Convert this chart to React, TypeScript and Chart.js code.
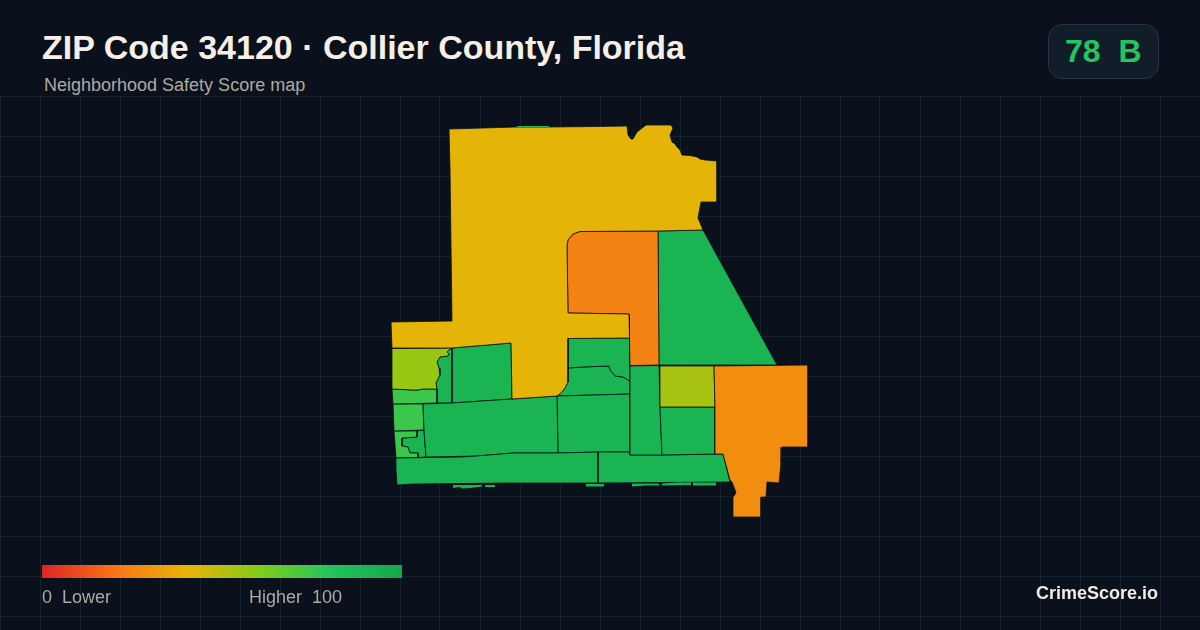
import React, { useEffect, useRef } from "react";
import { Chart, registerables } from "chart.js";

Chart.register(...registerables);

type Ring = [number, number][];

// Map outlines (map units) and safety scores, drawn through the chart's scales.
const northWest: Ring = [[449,129],[483,128],[517,127],[549,127],[597,126.5],[627,126],[628,135],[631,139],[633,139],[637,132],[646,125],[671,125],[673,128],[670,135],[672,142],[675,144],[677,147],[680,150],[682,155],[690,155.5],[697,157],[700,159],[705,160],[717,161],[717,202],[701,202],[698,218],[703,230],[658,231],[580,231.5],[573,234],[568,240],[567,246],[568,313],[629,314],[629.5,338],[568,338.5],[568,382],[565,388],[561,393],[557,396],[512,399],[511,343],[452,348],[392,348],[391,322],[452,321],[450,168]];
const northCentre: Ring = [[580,231.5],[658,231],[659,365],[630,365.5],[629,314],[568,313],[567,246],[568,240],[573,234]];
const northEast: Ring = [[658,231],[703,230],[777,365],[659,365]];
const southEast: Ring = [[714,366],[808,365],[808,447],[782,447],[781,463],[779,483],[767,482],[766,497],[761,497],[761,517],[733,517],[733,497],[736,493],[735,490],[732,482],[730,480],[723,454],[715,454],[715,407]];
const eastLime: Ring = [[660,366],[714,366],[715,407],[660,407]];
const eastLower: Ring = [[660,407],[715,407],[715,454],[662,455]];
const eastColumn: Ring = [[630,366],[659,365.5],[660,407],[662,455],[630,455]];
const bandWest: Ring = [[396,458],[462,457],[477,456],[513,453],[558,453],[598,452],[598,483],[505,483],[412,484],[397,485],[396,470]];
const bandEast: Ring = [[598,452],[630,452],[630,455],[662,455],[723,454],[730,482],[598,483]];
const midBlock: Ring = [[423,404],[452,403],[512,399],[557,396],[558,453],[513,453],[477,456],[426,457],[424,430]];
const eastBlock: Ring = [[557,396],[595,395],[630,394],[630,452],[598,452],[558,453]];
const rowUpper: Ring = [[568,338.5],[629.5,338],[630,381],[623,377],[615,376],[610,370],[609,366],[583,367],[568,368]];
const rowLower: Ring = [[568,368],[583,367],[609,366],[610,370],[615,376],[623,377],[630,381],[630,394],[595,395],[557,396],[561,393],[565,388],[568,382]];
const westLime: Ring = [[392,348.5],[452,348],[450,349],[447,352],[449,354],[448,356],[440,357],[437,362],[439,368],[440,375],[436,383],[437,389],[423,389],[418,390],[413,390],[392,389]];
const westUnderLime: Ring = [[392,389],[413,390],[418,390],[423,389],[437,389],[437,403],[393,404]];
const westNarrow: Ring = [[452,348],[452,403],[437,403],[437,389],[436,383],[440,375],[439,368],[437,362],[440,357],[448,356],[449,354],[447,352],[450,349]];
const westBlock: Ring = [[452,348],[511,343],[512,399],[452,403]];
const westLight: Ring = [[393,404],[423,404],[424,430],[394,431]];
const westLower: Ring = [[394,431],[417,431],[417,437],[402,438],[402,446],[408,447],[410,453],[418,453],[418,457.5],[396,458]];
const westInner: Ring = [[417,431],[424,430],[426,457],[418,457.5],[418,453],[410,453],[408,447],[402,446],[402,438],[417,437]];
const isletTop: Ring = [[517,126],[549,126],[549,127],[517,127]];
const isletA: Ring = [[453,485],[482,485],[482,486.5],[470,488],[462,488.5],[460,487],[453,488]];
const isletB: Ring = [[485,485],[495,485],[495,487],[485,487]];
const isletC: Ring = [[586,484],[604,484],[604,486.5],[586,486.5]];
const isletD: Ring = [[632,483.5],[659,483.5],[659,485.5],[646,485.5],[632,486.5]];
const isletE: Ring = [[662,483.5],[677,482.5],[691,482.5],[691,485],[662,485.5]];
const isletF: Ring = [[693,482.5],[716,482.5],[716,485.5],[693,485.5]];

const rings: Ring[] = [northWest, northCentre, northEast, southEast, eastLime, eastLower, eastColumn, bandWest, bandEast, midBlock, eastBlock, rowUpper, rowLower, westLime, westUnderLime, westNarrow, westBlock, westLight, westLower, westInner];
const scores: number[] = [41, 25, 91, 28, 53, 91, 91, 91, 91, 91, 91, 91, 91, 56, 75, 91, 91, 75, 75, 91];
const islets: Ring[] = [isletTop, isletA, isletB, isletC, isletD, isletE, isletF];
const isletScores: number[] = [91, 91, 91, 91, 91, 91, 91];

const rampStops: number[] = [0, 20, 40, 60, 80, 100];
const rampColors: [number, number, number][] = [[220,38,38],[249,115,22],[234,179,8],[132,204,22],[34,197,94],[22,166,74]];

const titleText = "ZIP Code 34120 · Collier County, Florida";
const subtitleText = "Neighborhood Safety Score map";
const overallScore = "78";
const overallGrade = "B";
const legendLow = "0  Lower";
const legendHigh = "Higher  100";
const brandText = "CrimeScore.io";

const BG = "#0a111c";
const GRID = "rgba(120,190,210,0.1)";
const MUTED = "#aeaa9e";
const SANS = '"Liberation Sans", Arial, sans-serif';

function scoreColor(v: number): string {
  let i = 0;
  while (i < rampStops.length - 2 && v > rampStops[i + 1]) i++;
  const t = (v - rampStops[i]) / (rampStops[i + 1] - rampStops[i]);
  const c = rampColors[i].map((a, k) => Math.round(a + (rampColors[i + 1][k] - a) * t));
  return `rgb(${c[0]},${c[1]},${c[2]})`;
}

const rampCss = rampStops
  .map((s, i) => `rgb(${rampColors[i].join(",")}) ${s}%`)
  .join(", ");

function polygon(ring: Ring, score: number, borderWidth: number) {
  return {
    data: ring.concat([ring[0]]).map(([x, y]) => ({ x, y })),
    showLine: true,
    fill: "shape",
    backgroundColor: scoreColor(score),
    borderColor: borderWidth ? BG : "rgba(0,0,0,0)",
    borderWidth,
    borderJoinStyle: "round",
    pointRadius: 0,
    tension: 0,
  };
}

export default function App() {
  const ref = useRef<HTMLCanvasElement | null>(null);

  useEffect(() => {
    document.body.style.margin = "0";
    document.body.style.background = BG;
    const chart = new Chart(ref.current as HTMLCanvasElement, {
      type: "scatter",
      data: {
        datasets: [
          ...islets.map((ring, i) => polygon(ring, isletScores[i], 0)),
          ...rings.map((ring, i) => polygon(ring, scores[i], 0.8)),
        ],
      } as any,
      options: {
        animation: false,
        responsive: false,
        devicePixelRatio: 1,
        layout: { padding: 0 },
        plugins: { legend: { display: false }, tooltip: { enabled: false } },
        scales: {
          x: {
            type: "linear",
            min: 0,
            max: 1200,
            border: { display: false },
            grid: { color: GRID, lineWidth: 1, drawTicks: false },
            ticks: { display: false, stepSize: 40 },
          },
          y: {
            type: "linear",
            min: 0,
            max: 630,
            reverse: true,
            border: { display: false },
            grid: { color: GRID, lineWidth: 1, drawTicks: false },
            ticks: { display: false },
            afterBuildTicks: (axis: any) => {
              const out = [];
              for (let v = 96; v <= 630; v += 40) out.push({ value: v });
              axis.ticks = out;
            },
          },
        },
      } as any,
    });
    return () => chart.destroy();
  }, []);

  const abs = (o: React.CSSProperties): React.CSSProperties => ({ position: "absolute", whiteSpace: "pre", fontFamily: SANS, ...o });

  return (
    <div style={{ position: "relative", width: 1200, height: 630, overflow: "hidden", background: BG }}>
      <canvas ref={ref} width={1200} height={630} style={{ position: "absolute", left: 0, top: 0, width: 1200, height: 630 }} />
      <div style={{ position: "absolute", left: 0, top: 0, width: 1200, height: 96, background: BG }} />
      <div style={abs({ left: 42, top: 28, fontSize: 34, fontWeight: 700, lineHeight: "39px", color: "#f5efe6" })}>{titleText}</div>
      <div style={abs({ left: 44, top: 75, fontSize: 18, lineHeight: "20px", color: MUTED })}>{subtitleText}</div>
      <div style={{ position: "absolute", left: 1048, top: 24, width: 109, height: 53, borderRadius: 14, background: "#121d2a", border: "1px solid #253241" }} />
      <div style={abs({ left: 1065, top: 33, fontSize: 32, fontWeight: 700, lineHeight: "37px", color: "#22c55e" })}>{`${overallScore}  ${overallGrade}`}</div>
      <div style={{ position: "absolute", left: 42, top: 565, width: 360, height: 13, background: `linear-gradient(to right, ${rampCss})` }} />
      <div style={abs({ left: 42, top: 587, fontSize: 18, lineHeight: "20px", color: MUTED })}>{legendLow}</div>
      <div style={abs({ left: 249, top: 587, fontSize: 18, lineHeight: "20px", color: MUTED })}>{legendHigh}</div>
      <div style={abs({ right: 42, top: 583, fontSize: 18, fontWeight: 700, lineHeight: "20px", color: "#f0ece4" })}>{brandText}</div>
    </div>
  );
}
